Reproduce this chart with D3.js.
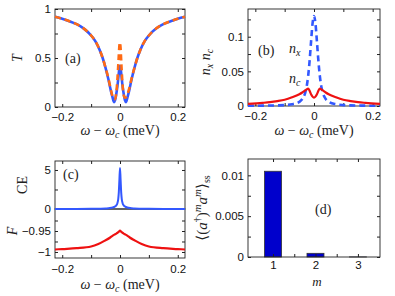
<!doctype html>
<html>
<head>
<meta charset="utf-8">
<script src="https://cdn.jsdelivr.net/npm/d3@7"></script>
<style>
  body { margin: 0; background: #fff; }
  .tick text { font-family: "Liberation Sans", Arial, sans-serif; font-size: 11.5px; fill: #111; }
  .tick line { stroke: #222; }
  .lab { font-family: "Liberation Serif", "DejaVu Serif", serif; font-size: 14px; fill: #222; }
</style>
</head>
<body>
<svg id="fig" width="395" height="296"></svg>
<script>
// (a) transmission
var omegaT = [-0.225,-0.2,-0.175,-0.15,-0.125,-0.1,-0.085,-0.07,-0.06,-0.05,-0.04,-0.032,-0.026,-0.021,-0.017,-0.013,-0.009,-0.005,-0.002,0,
  0.002,0.005,0.009,0.013,0.017,0.021,0.026,0.032,0.04,0.05,0.06,0.07,0.085,0.1,0.125,0.15,0.175,0.2,0.225];
var Tsolid = [0.92,0.90,0.875,0.845,0.80,0.73,0.67,0.58,0.50,0.40,0.28,0.17,0.10,0.05,0.07,0.13,0.21,0.32,0.40,0.42,
  0.40,0.32,0.21,0.13,0.07,0.05,0.10,0.17,0.28,0.40,0.50,0.58,0.67,0.73,0.80,0.845,0.875,0.90,0.92];
var Tdashed = [0.92,0.90,0.875,0.845,0.80,0.73,0.67,0.58,0.50,0.40,0.29,0.18,0.11,0.08,0.08,0.14,0.28,0.48,0.63,0.66,
  0.60,0.42,0.22,0.12,0.095,0.10,0.13,0.19,0.29,0.40,0.50,0.58,0.67,0.73,0.80,0.845,0.875,0.90,0.92];

// (b) occupations
var omegaN = [-0.225,-0.175,-0.15,-0.125,-0.1,-0.075,-0.05,-0.04,-0.03,-0.025,-0.02,-0.015,-0.01,-0.005,0,
  0.005,0.01,0.015,0.02,0.025,0.03,0.04,0.05,0.075,0.1,0.125,0.15,0.175,0.225];
var nx = [0.0003,0.0005,0.0007,0.0009,0.0013,0.0025,0.006,0.01,0.019,0.028,0.043,0.065,0.093,0.119,0.13,
  0.119,0.093,0.065,0.043,0.028,0.019,0.01,0.006,0.0025,0.0013,0.0009,0.0007,0.0005,0.0003];
var nc = [0.003,0.0045,0.0055,0.007,0.009,0.0125,0.017,0.0195,0.0225,0.024,0.025,0.022,0.017,0.0135,0.012,
  0.0135,0.017,0.022,0.025,0.024,0.0225,0.0195,0.017,0.0125,0.009,0.007,0.0055,0.0045,0.003];

// (c) CE and F
var omegaCE = [-0.225,-0.15,-0.1,-0.07,-0.05,-0.035,-0.025,-0.018,-0.013,-0.009,-0.006,-0.004,-0.002,0,
  0.002,0.004,0.006,0.009,0.013,0.018,0.025,0.035,0.05,0.07,0.1,0.15,0.225];
var CE = [0,0.01,0.02,0.04,0.07,0.12,0.2,0.3,0.45,0.75,1.3,2.2,3.8,5.25,
  3.8,2.2,1.3,0.75,0.45,0.3,0.2,0.12,0.07,0.04,0.02,0.01,0];
var omegaF = [-0.225,-0.2,-0.15,-0.1,-0.075,-0.05,-0.035,-0.025,-0.015,-0.008,-0.003,0,
  0.003,0.008,0.015,0.025,0.035,0.05,0.075,0.1,0.15,0.2,0.225];
var F = [-0.994,-0.993,-0.991,-0.987,-0.981,-0.972,-0.966,-0.961,-0.957,-0.954,-0.951,-0.949,
  -0.951,-0.954,-0.957,-0.961,-0.966,-0.972,-0.981,-0.987,-0.991,-0.993,-0.994];

// (d) moments
var mVals = [1, 2, 3];
var mBar = [0.0105, 0.00045, 0.00001];

var svg = d3.select('#fig');
var minus = function(v) { return String(v).replace('-', '\u2212'); };

function frame(x, y, o) {
  var g = svg.append('g');
  var xr = x.range(), yr = y.range();
  var lbl = function(list) { return function(d) { return list.indexOf(d) >= 0 ? minus(d) : ''; }; };
  if (o.bottom !== false) {
    g.append('g').attr('transform', 'translate(0,' + yr[0] + ')')
      .call(d3.axisBottom(x).tickValues(o.xt).tickSize(-3).tickPadding(o.xpad || 6)
        .tickFormat(o.xl ? lbl(o.xl) : ''));
  }
  if (o.top !== false) {
    g.append('g').attr('transform', 'translate(0,' + yr[1] + ')')
      .call(d3.axisTop(x).tickValues(o.xt).tickSize(-3).tickFormat(''));
  }
  g.append('g').attr('transform', 'translate(' + xr[0] + ',0)')
    .call(d3.axisLeft(y).tickValues(o.yt).tickSize(-3).tickPadding(4).tickFormat(lbl(o.yl)));
  g.append('g').attr('transform', 'translate(' + xr[1] + ',0)')
    .call(d3.axisRight(y).tickValues(o.yt).tickSize(-3).tickFormat(''));
  g.selectAll('.domain').remove();
  g.append('rect').attr('x', xr[0]).attr('y', yr[1])
    .attr('width', xr[1] - xr[0]).attr('height', yr[0] - yr[1])
    .attr('fill', 'none').attr('stroke', '#222').attr('stroke-width', 0.9);
  return g;
}

function curve(x, y, xs, ys, color, w, dash) {
  var line = d3.line().x(function(d, i) { return x(xs[i]); }).y(function(d) { return y(d); })
    .curve(d3.curveMonotoneX);
  svg.append('path').datum(ys).attr('d', line).attr('fill', 'none')
    .attr('stroke', color).attr('stroke-width', w)
    .attr('stroke-dasharray', dash || null);
}

function label(x, y, txt, rot, italic) {
  var t = svg.append('text').attr('class', 'lab').attr('text-anchor', 'middle')
    .attr('transform', 'translate(' + x + ',' + y + ')' + (rot ? ' rotate(-90)' : ''));
  if (italic) t.style('font-style', 'italic');
  return t.text(txt);
}

function omegaLabel(cx, by) {
  var t = svg.append('text').attr('class', 'lab').attr('text-anchor', 'middle')
    .attr('x', cx).attr('y', by);
  t.append('tspan').style('font-style', 'italic').text('\u03c9');
  t.append('tspan').text(' \u2212 ');
  t.append('tspan').style('font-style', 'italic').text('\u03c9');
  t.append('tspan').style('font-style', 'italic').style('font-size', '10px').attr('dy', 3).text('c');
  t.append('tspan').attr('dy', -3).text(' (meV)');
}

var xTicks = [-0.2, -0.1, 0, 0.1, 0.2], xLab = [-0.2, 0, 0.2];

// panel (a)
var xa = d3.scaleLinear().domain([-0.225, 0.225]).range([55, 185]);
var ya = d3.scaleLinear().domain([0, 1]).range([107, 9]);
frame(xa, ya, { xt: xTicks, xl: xLab, yt: [0, 0.25, 0.5, 0.75, 1], yl: [0, 0.5, 1] });
curve(xa, ya, omegaT, Tsolid, '#3358ff', 2.6);
curve(xa, ya, omegaT, Tdashed, '#ff6a14', 2.6, '6,4');
label(22, 58, 'T', true, true);
svg.append('text').attr('class', 'lab').attr('x', 65).attr('y', 63).attr('fill', '#555').text('(a)');
omegaLabel(120, 135);

// panel (b)
var xb = d3.scaleLinear().domain([-0.225, 0.225]).range([248, 380]);
var yb = d3.scaleLinear().domain([0, 0.14]).range([106, 9]);
frame(xb, yb, { xt: xTicks, xl: xLab, yt: [0, 0.025, 0.05, 0.075, 0.1, 0.125], yl: [0, 0.05, 0.1] });
curve(xb, yb, omegaN, nx, '#3358ff', 2.6, '6,4');
curve(xb, yb, omegaN, nc, '#ee1111', 2.2);
var nl = svg.append('text').attr('class', 'lab')
  .attr('transform', 'translate(210,62) rotate(-90)').attr('text-anchor', 'middle');
nl.append('tspan').style('font-style', 'italic').text('n');
nl.append('tspan').style('font-style', 'italic').style('font-size', '10px').attr('dy', 3).text('x');
nl.append('tspan').attr('dy', -3).text(' ');
nl.append('tspan').style('font-style', 'italic').text('n');
nl.append('tspan').style('font-style', 'italic').style('font-size', '10px').attr('dy', 3).text('c');
svg.append('text').attr('class', 'lab').attr('x', 258).attr('y', 55).text('(b)');
var tx = svg.append('text').attr('class', 'lab').attr('x', 289).attr('y', 53);
tx.append('tspan').style('font-style', 'italic').text('n');
tx.append('tspan').style('font-style', 'italic').style('font-size', '10px').attr('dy', 3).text('x');
var tc = svg.append('text').attr('class', 'lab').attr('x', 289).attr('y', 83);
tc.append('tspan').style('font-style', 'italic').text('n');
tc.append('tspan').style('font-style', 'italic').style('font-size', '10px').attr('dy', 3).text('c');
omegaLabel(314, 135);

// panel (c)
var xc = d3.scaleLinear().domain([-0.225, 0.225]).range([55, 185]);
var yc1 = d3.scaleLinear().domain([0, 6.15]).range([209, 161]);
var yc2 = d3.scaleLinear().domain([-1.0143, -0.8976]).range([258, 209]);
frame(xc, yc1, { xt: xTicks, bottom: false, yt: [0, 2.5, 5], yl: [0, 5] });
frame(xc, yc2, { xt: xTicks, xl: xLab, xpad: 7, top: false, yt: [-1, -0.975, -0.95, -0.925], yl: [-1, -0.95] });
curve(xc, yc1, omegaCE, CE, '#3358ff', 2);
curve(xc, yc2, omegaF, F, '#ee1111', 2.2);
label(27, 185, 'CE', true, false);
label(17, 231, 'F', true, true);
svg.append('text').attr('class', 'lab').attr('x', 63).attr('y', 179).text('(c)');
omegaLabel(120, 289);

// panel (d)
var xd = d3.scaleLinear().domain([0.41, 3.52]).range([248, 380]);
var yd = d3.scaleLinear().domain([0, 0.012]).range([257, 159]);
var bw = xd(1.4) - xd(1);
svg.append('g').selectAll('rect').data(mBar).join('rect')
  .attr('x', function(d, i) { return xd(mVals[i]) - bw / 2; })
  .attr('y', function(d) { return yd(d); })
  .attr('width', bw)
  .attr('height', function(d) { return yd(0) - yd(d); })
  .attr('fill', '#0000cc').attr('stroke', '#333').attr('stroke-width', 0.8);
frame(xd, yd, { xt: [1, 1.5, 2, 2.5, 3], xl: [1, 2, 3], xpad: 4, yt: [0, 0.0025, 0.005, 0.0075, 0.01], yl: [0, 0.005, 0.01] });
var ml = svg.append('text').attr('class', 'lab').style('font-size', '15px')
  .attr('transform', 'translate(207,208) rotate(-90)').attr('text-anchor', 'middle');
ml.append('tspan').text('\u27e8(');
ml.append('tspan').style('font-style', 'italic').text('a');
ml.append('tspan').style('font-size', '10px').attr('dy', -6).text('\u2020');
ml.append('tspan').attr('dy', 6).text(')');
ml.append('tspan').style('font-style', 'italic').style('font-size', '11px').attr('dy', -6).text('m');
ml.append('tspan').style('font-style', 'italic').attr('dy', 6).text('a');
ml.append('tspan').style('font-style', 'italic').style('font-size', '11px').attr('dy', -6).text('m');
ml.append('tspan').attr('dy', 6).text('\u27e9');
ml.append('tspan').style('font-size', '10px').attr('dy', 3).text('ss');
svg.append('text').attr('class', 'lab').attr('x', 315).attr('y', 214).text('(d)');
label(317, 286, 'm', false, true).style('font-size', '13px');
</script>
</body>
</html>
